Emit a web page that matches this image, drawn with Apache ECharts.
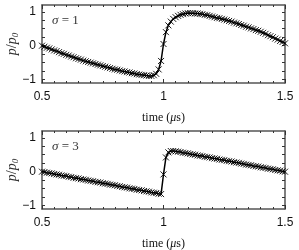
<!DOCTYPE html>
<html><head><meta charset="utf-8">
<script src="https://cdn.jsdelivr.net/npm/echarts@6/dist/echarts.min.js"></script>
<style>html,body{margin:0;padding:0;background:#fff}#c{width:299px;height:250px}</style>
</head><body><div id="c"></div>
<script>
const time = [0.50,0.51,0.52,0.53,0.54,0.55,0.56,0.57,0.58,0.59,0.60,0.61,0.62,0.63,0.64,0.65,0.66,0.67,0.68,0.69,
0.70,0.71,0.72,0.73,0.74,0.75,0.76,0.77,0.78,0.79,0.80,0.81,0.82,0.83,0.84,0.85,0.86,0.87,0.88,0.89,
0.90,0.91,0.92,0.93,0.94,0.95,0.96,0.97,0.98,0.99,1.00,1.01,1.02,1.03,1.04,1.05,1.06,1.07,1.08,1.09,
1.10,1.11,1.12,1.13,1.14,1.15,1.16,1.17,1.18,1.19,1.20,1.21,1.22,1.23,1.24,1.25,1.26,1.27,1.28,1.29,
1.30,1.31,1.32,1.33,1.34,1.35,1.36,1.37,1.38,1.39,1.40,1.41,1.42,1.43,1.44,1.45,1.46,1.47,1.48,1.49,1.50];

const sigma1 = [0.00,-0.03,-0.06,-0.08,-0.11,-0.14,-0.16,-0.19,-0.22,-0.24,-0.27,-0.29,-0.32,-0.34,-0.37,-0.39,-0.41,-0.44,-0.46,-0.48,
-0.50,-0.52,-0.54,-0.56,-0.58,-0.60,-0.62,-0.64,-0.66,-0.68,-0.70,-0.71,-0.73,-0.75,-0.76,-0.78,-0.79,-0.81,-0.82,-0.84,
-0.85,-0.86,-0.87,-0.88,-0.89,-0.89,-0.87,-0.83,-0.70,-0.45,0.05,0.40,0.60,0.71,0.79,0.84,0.88,0.91,0.93,0.95,
0.96,0.96,0.96,0.95,0.95,0.94,0.93,0.91,0.90,0.88,0.86,0.84,0.82,0.81,0.79,0.77,0.75,0.73,0.71,0.68,
0.66,0.64,0.61,0.59,0.56,0.54,0.51,0.49,0.46,0.44,0.41,0.38,0.35,0.31,0.28,0.25,0.21,0.18,0.14,0.11,0.07];

const sigma3 = [0.00,-0.01,-0.03,-0.04,-0.05,-0.07,-0.08,-0.09,-0.11,-0.12,-0.13,-0.15,-0.16,-0.18,-0.19,-0.20,-0.22,-0.23,-0.24,-0.26,
-0.27,-0.28,-0.30,-0.31,-0.32,-0.34,-0.35,-0.36,-0.38,-0.39,-0.40,-0.42,-0.43,-0.45,-0.46,-0.47,-0.49,-0.50,-0.51,-0.53,
-0.54,-0.55,-0.57,-0.58,-0.59,-0.61,-0.62,-0.63,-0.65,-0.66,-0.08,0.42,0.57,0.61,0.61,0.60,0.59,0.58,0.56,0.55,
0.54,0.52,0.51,0.50,0.48,0.47,0.46,0.44,0.43,0.42,0.40,0.39,0.38,0.36,0.35,0.34,0.32,0.31,0.30,0.28,
0.27,0.26,0.24,0.23,0.21,0.20,0.19,0.17,0.16,0.15,0.13,0.12,0.11,0.09,0.08,0.07,0.05,0.04,0.03,0.01,0.00];

const yLabelTicks = [-1, 0, 1];
const yTickMarks = [-1, -0.75, -0.5, -0.25, 0, 0.25, 0.5, 0.75, 1];
const panelLabels = ['1', '3'];

const frame = {color:'#555', width:1.5};
const tickStyle = {color:'#333', width:1};
const serif = 'Liberation Serif';
const sans = 'Liberation Sans';

const grids = [
  {left:42, top:5, width:243, height:78, containLabel:false, outerBoundsMode:'none'},
  {left:42, top:131, width:243, height:78, containLabel:false, outerBoundsMode:'none'}
];
const xAxes = [], yAxes = [], series = [], graphics = [];
const datasets = [sigma1, sigma3];
grids.forEach((g, i) => {
  const base = {
    gridIndex:i, type:'value', min:0.5, max:1.5, interval:0.5,
    axisLine:{show:true, onZero:false, lineStyle:frame},
    axisTick:{show:true, inside:true, length:4, lineStyle:tickStyle},
    minorTick:{show:true, splitNumber:10, length:2, lineStyle:tickStyle},
    splitLine:{show:false}
  };
  xAxes.push(Object.assign({}, base, {
    position:'bottom',
    axisLabel:{show:true, margin:8, fontFamily:sans, fontSize:12, color:'#111'},
    name:'{t|time (}{i|μ}{t|s)}', nameLocation:'middle', nameGap:29, nameMoveOverlap:false,
    nameTextStyle:{rich:{t:{fontFamily:serif, fontSize:12, color:'#111'}, i:{fontFamily:serif, fontStyle:'italic', fontSize:12, color:'#111'}}}
  }));
  xAxes.push(Object.assign({}, base, {position:'top', axisLabel:{show:false}}));
  const ybase = {
    gridIndex:i, type:'value', min:-1.1, max:1.2,
    axisLine:{show:true, onZero:false, lineStyle:frame},
    axisTick:{show:true, inside:true, length:3, lineStyle:tickStyle, customValues:yTickMarks},
    splitLine:{show:false}
  };
  yAxes.push(Object.assign({}, ybase, {
    position:'left',
    axisLabel:{show:true, margin:6, fontFamily:sans, fontSize:12, color:'#111', customValues:yLabelTicks,
      formatter:v => (v < 0 ? '\u2212' + Math.abs(v) : String(v))},
    name:'{i|p}{n|/}{i|p}{s|0}', nameLocation:'middle', nameGap:22, nameMoveOverlap:false,
    nameTextStyle:{rich:{i:{fontFamily:serif, fontStyle:'italic', fontSize:14, color:'#333'},
      n:{fontFamily:serif, fontSize:14, color:'#333'},
      s:{fontFamily:serif, fontStyle:'italic', fontSize:9, color:'#333', verticalAlign:'bottom', padding:[6,0,0,0]}}}
  }));
  yAxes.push(Object.assign({}, ybase, {position:'right', axisLabel:{show:false}}));
  series.push({
    type:'line', xAxisIndex:i*2, yAxisIndex:i*2,
    data: time.map((t, k) => [t, datasets[i][k]]),
    lineStyle:{color:'#000', width:1.5},
    symbol:'path://M0,0L10,10M10,0L0,10', symbolSize:6, showSymbol:true,
    itemStyle:{color:'#000', borderColor:'#000', borderWidth:0.9},
    animation:false, silent:true
  });
  graphics.push({
    type:'text', left:g.left + 10, top:g.top + 9,
    style:{text:'{i|σ} = ' + panelLabels[i], fontFamily:serif, fontSize:13, fill:'#333',
      rich:{i:{fontFamily:serif, fontStyle:'italic', fontSize:13, fill:'#333'}}}
  });
});

const chart = echarts.init(document.getElementById('c'), null, {renderer:'canvas'});
chart.setOption({
  animation:false,
  grid:grids, xAxis:xAxes, yAxis:yAxes, series:series, graphic:graphics
});
</script>
</body></html>
